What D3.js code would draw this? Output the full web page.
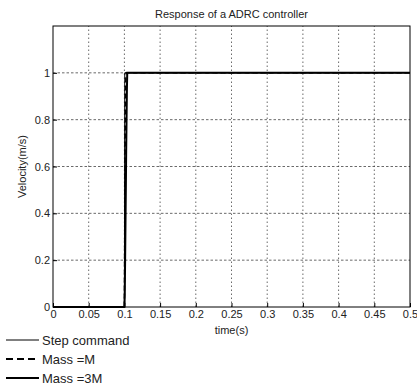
<!DOCTYPE html>
<html>
<head>
<meta charset="utf-8">
<script src="https://cdn.jsdelivr.net/npm/d3@7"></script>
<style>
  body { margin: 0; background: #fff; }
  svg { display: block; font-family: "Liberation Sans", Arial, sans-serif; }
</style>
</head>
<body>
<script>
// time samples (s) around the step, then flat to the end
var time = [0, 0.1, 0.1005, 0.101, 0.1015, 0.102, 0.1025, 0.103, 0.1035, 0.104, 0.5];
var stepCmd = [0, 0, 1, 1, 1, 1, 1, 1, 1, 1, 1];
var massM = [0, 0, 0.35, 0.67, 0.9, 0.98, 1, 1, 1, 1, 1];
var mass3M = [0, 0, 0.05, 0.2, 0.35, 0.5, 0.67, 0.8, 0.93, 1, 1];

var xTicks = [0, 0.05, 0.1, 0.15, 0.2, 0.25, 0.3, 0.35, 0.4, 0.45, 0.5];
var yTicks = [0, 0.2, 0.4, 0.6, 0.8, 1];
var legendNames = ["Step command", "Mass =M", "Mass =3M"];

var W = 417, H = 387;
var m = {left: 53, right: 7, top: 26, bottom: 80};

var svg = d3.select("body").append("svg")
    .attr("width", W).attr("height", H);

var x = d3.scaleLinear().domain([0, 0.5]).range([m.left, W - m.right]);
var y = d3.scaleLinear().domain([0, 1.2]).range([H - m.bottom, m.top]);

// grid
svg.append("g").selectAll("line").data(xTicks.slice(1, -1)).enter().append("line")
    .attr("x1", function(d) { return x(d); }).attr("x2", function(d) { return x(d); })
    .attr("y1", y(0)).attr("y2", y(1.2))
    .attr("stroke", "#444").attr("stroke-width", 0.8).attr("stroke-dasharray", "1.5,2.5");
svg.append("g").selectAll("line").data(yTicks.slice(1)).enter().append("line")
    .attr("y1", function(d) { return y(d); }).attr("y2", function(d) { return y(d); })
    .attr("x1", x(0)).attr("x2", x(0.5))
    .attr("stroke", "#444").attr("stroke-width", 0.8).attr("stroke-dasharray", "2.5,2");

// axes (ticks inward, like matlab)
var xAxis = svg.append("g").attr("transform", "translate(0," + y(0) + ")")
    .call(d3.axisBottom(x).tickValues(xTicks).tickSize(-4).tickPadding(3)
        .tickFormat(function(d) { return d3.format("")(d); }));
var yAxis = svg.append("g").attr("transform", "translate(" + x(0) + ",0)")
    .call(d3.axisLeft(y).tickValues(yTicks).tickSize(-4).tickPadding(3)
        .tickFormat(function(d) { return d3.format("")(d); }));
[xAxis, yAxis].forEach(function(a) {
  a.select(".domain").remove();
  a.selectAll("line").attr("stroke", "#000");
  a.selectAll("text").attr("font-size", 11).attr("fill", "#222")
      .attr("font-family", "Liberation Sans, Arial, sans-serif");
});

// frame
svg.append("rect").attr("x", x(0)).attr("y", y(1.2))
    .attr("width", x(0.5) - x(0)).attr("height", y(0) - y(1.2))
    .attr("fill", "none").attr("stroke", "#000").attr("stroke-width", 1);

// lines
var rows = time.map(function(t, i) { return {t: t, s: stepCmd[i], a: massM[i], b: mass3M[i]}; });
function lineOf(key) {
  return d3.line().x(function(d) { return x(d.t); }).y(function(d) { return y(d[key]); });
}
var styles = [
  {key: "s", w: 1, dash: null},
  {key: "a", w: 1.5, dash: "5,3"},
  {key: "b", w: 2, dash: null}
];
styles.forEach(function(st) {
  svg.append("path").datum(rows).attr("d", lineOf(st.key))
      .attr("fill", "none").attr("stroke", "#000")
      .attr("stroke-width", st.w).attr("stroke-dasharray", st.dash);
});

// title and labels
svg.append("text").attr("x", x(0.25)).attr("y", 18).attr("text-anchor", "middle")
    .attr("font-size", 11).attr("fill", "#222").text("Response of a ADRC controller");
svg.append("text").attr("x", x(0.25)).attr("y", 334).attr("text-anchor", "middle")
    .attr("font-size", 11).attr("fill", "#222").text("time(s)");
svg.append("text").attr("transform", "translate(26," + y(0.6) + ") rotate(-90)")
    .attr("text-anchor", "middle").attr("font-size", 11).attr("fill", "#222")
    .text("Velocity(m/s)");

// legend
var lg = svg.append("g").selectAll("g").data(styles).enter().append("g")
    .attr("transform", function(d, i) { return "translate(0," + (340 + i * 19) + ")"; });
lg.append("line").attr("x1", 6).attr("x2", 39).attr("y1", 0).attr("y2", 0)
    .attr("stroke", "#000")
    .attr("stroke-width", function(d) { return d.w === 1 ? 1 : 2; })
    .attr("stroke-dasharray", function(d) { return d.dash ? "7,4" : null; });
lg.append("text").attr("x", 42).attr("y", 0).attr("dy", "0.35em")
    .attr("font-size", 13).attr("fill", "#222")
    .text(function(d, i) { return legendNames[i]; });
</script>
</body>
</html>
